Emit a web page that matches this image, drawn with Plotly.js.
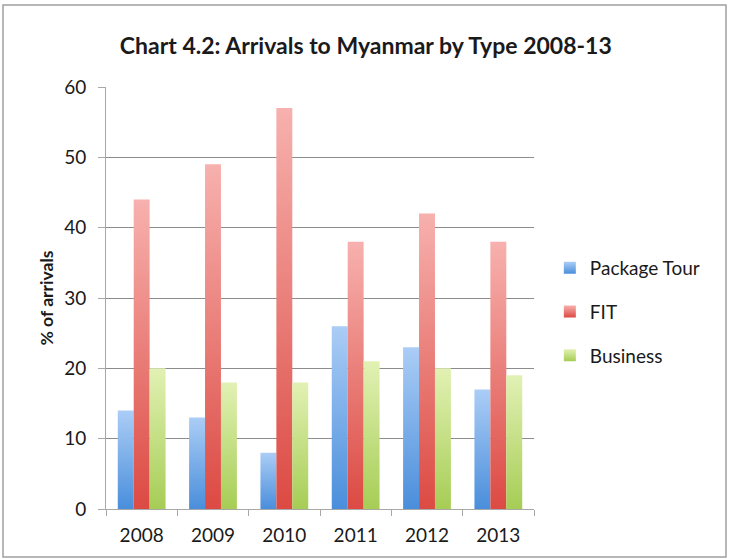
<!DOCTYPE html>
<html>
<head>
<meta charset="utf-8">
<script src="https://cdn.plot.ly/plotly-3.0.1.min.js"></script>
<style>
html,body{margin:0;padding:0;background:#fff;}
#chart{width:729px;height:559px;}
</style>
</head>
<body>
<div id="chart"></div>
<script>
const years = ["2008", "2009", "2010", "2011", "2012", "2013"];
const packageTour = [14, 13, 8, 26, 23, 17];
const fit = [44, 49, 57, 38, 42, 38];
const business = [20, 18, 18, 21, 20, 19];
const seriesNames = ["Package Tour", "FIT", "Business"];
const yTicks = [0, 10, 20, 30, 40, 50, 60];

const baseColors = ["#6fa6e6", "#e8716c", "#c4e07e"];
const gradStops = [
  ["#abcdf6", "#4a8edb"],
  ["#f7b1ae", "#dc4a43"],
  ["#e2f1b4", "#a6cd55"]
];

const font = "Lato, 'Open Sans', sans-serif";
const seriesVals = [packageTour, fit, business];
const traces = seriesVals.map((vals, i) => ({
  type: "bar",
  name: seriesNames[i],
  x: years,
  y: vals,
  legendgroup: "g" + i,
  marker: {color: baseColors[i], line: {width: 0}},
  hoverinfo: "skip"
}));

const layout = {
  width: 729,
  height: 559,
  margin: {l: 106, r: 195, t: 87, b: 50},
  paper_bgcolor: "#ffffff",
  plot_bgcolor: "#ffffff",
  showlegend: true,
  barmode: "group",
  bargap: 0.33,
  bargroupgap: 0,
  font: {family: font, size: 19, color: "#1a1a1a"},
  title: {
    text: "<b>Chart 4.2: Arrivals to Myanmar by Type 2008-13</b>",
    font: {family: font, size: 23, color: "#1a1a1a"},
    x: 0.607, xanchor: "center", xref: "paper",
    y: 0.918, yanchor: "middle", yref: "container"
  },
  xaxis: {
    type: "category",
    showgrid: false,
    showline: true,
    linecolor: "#a8a8a8",
    linewidth: 1,
    ticks: "outside",
    tickson: "boundaries",
    ticklen: 6,
    tickcolor: "#a8a8a8",
    ticklabelstandoff: 9,
    tickfont: {family: font, size: 19, color: "#1a1a1a"},
    zeroline: false
  },
  yaxis: {
    range: [0, 60],
    tickvals: yTicks,
    ticktext: yTicks.map(String),
    showgrid: true,
    gridcolor: "#8c8c8c",
    gridwidth: 1,
    showline: true,
    linecolor: "#a8a8a8",
    linewidth: 1,
    ticks: "outside",
    ticklen: 7,
    tickcolor: "#a8a8a8",
    ticklabelstandoff: 8,
    tickfont: {family: font, size: 19, color: "#1a1a1a"},
    zeroline: false,
    title: {
      text: "<b>% of arrivals</b>",
      font: {family: font, size: 17.5, color: "#1a1a1a"},
      standoff: 6
    }
  },
  legend: {
    x: 1.037, xanchor: "left",
    y: 0.467, yanchor: "middle",
    traceorder: "grouped",
    tracegroupgap: 16,
    font: {family: font, size: 19, color: "#1a1a1a"},
    bgcolor: "rgba(0,0,0,0)",
    itemwidth: 30
  },
  shapes: [{
    type: "rect", xref: "paper", yref: "paper",
    x0: (3 - 106) / 428, x1: (726 - 106) / 428,
    y0: (509 - 557) / 422, y1: (509 - 5) / 422,
    line: {color: "#a0a0a0", width: 1.5},
    fillcolor: "rgba(0,0,0,0)",
    layer: "below"
  }]
};

Plotly.newPlot("chart", traces, layout, {displayModeBar: false, staticPlot: true}).then(gd => {
  const svgNS = "http://www.w3.org/2000/svg";
  const svg = gd.querySelector("svg.main-svg");
  let defs = svg.querySelector("defs");
  if (!defs) { defs = document.createElementNS(svgNS, "defs"); svg.insertBefore(defs, svg.firstChild); }
  gradStops.forEach((st, i) => {
    const lg = document.createElementNS(svgNS, "linearGradient");
    lg.setAttribute("id", "barGrad" + i);
    lg.setAttribute("x1", "0"); lg.setAttribute("y1", "0");
    lg.setAttribute("x2", "0"); lg.setAttribute("y2", "1");
    const s1 = document.createElementNS(svgNS, "stop");
    s1.setAttribute("offset", "0"); s1.setAttribute("stop-color", st[0]);
    const s2 = document.createElementNS(svgNS, "stop");
    s2.setAttribute("offset", "1"); s2.setAttribute("stop-color", st[1]);
    lg.appendChild(s1); lg.appendChild(s2);
    defs.appendChild(lg);
  });
  gd.querySelectorAll(".barlayer .trace.bars").forEach((tr, i) => {
    tr.querySelectorAll(".point path").forEach(p => { p.style.fill = "url(#barGrad" + i + ")"; });
  });
  gd.querySelectorAll(".legend .traces").forEach((tr, i) => {
    tr.querySelectorAll(".legendpoints path").forEach(p => { p.style.fill = "url(#barGrad" + i + ")"; });
  });
});
</script>
</body>
</html>
